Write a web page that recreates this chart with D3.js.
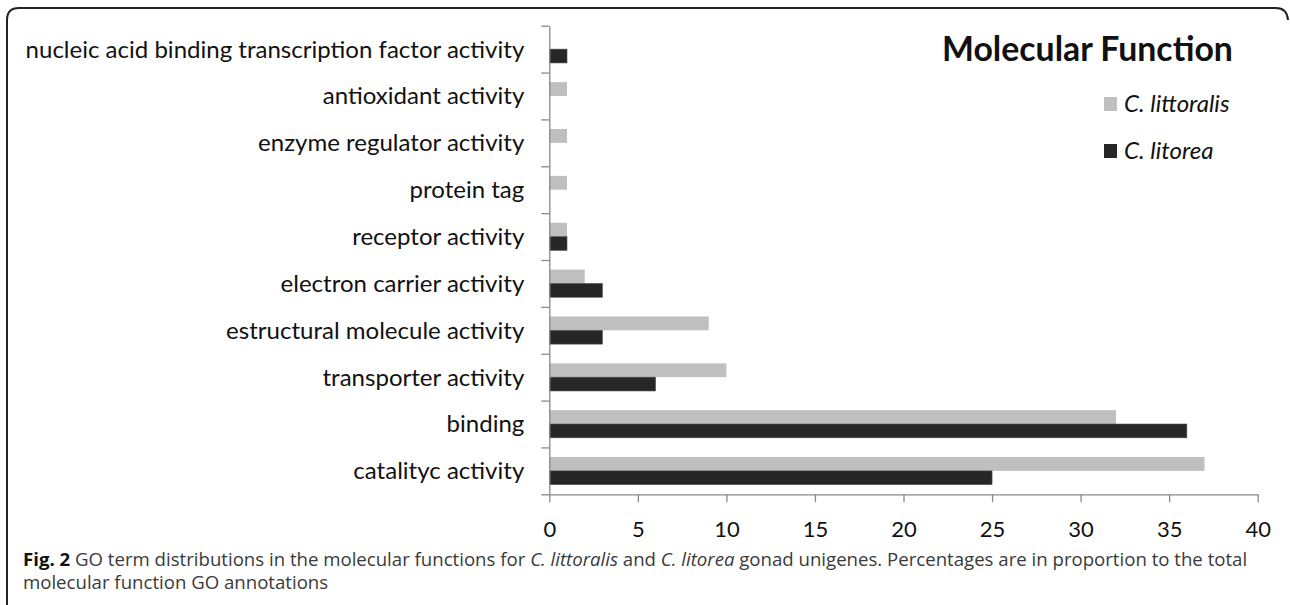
<!DOCTYPE html>
<html>
<head>
<meta charset="utf-8">
<script src="https://cdn.jsdelivr.net/npm/d3@7"></script>
<style>
  body { margin: 0; background: #fff; }
  svg { display: block; }
</style>
</head>
<body>
<div class="chart"></div>
<script>
// data (percent of GO annotations)
var categories = [
  "nucleic acid binding transcription factor activity",
  "antioxidant activity",
  "enzyme regulator activity",
  "protein tag",
  "receptor activity",
  "electron carrier activity",
  "estructural molecule activity",
  "transporter activity",
  "binding",
  "catalityc activity"
];
var littoralis = [0, 1, 1, 1, 1, 2, 9, 10, 32, 37];
var litorea = [1, 0, 0, 0, 1, 3, 3, 6, 36, 25];
var seriesNames = ["C. littoralis", "C. litorea"];
var xTicks = [0, 5, 10, 15, 20, 25, 30, 35, 40];

var svgWidth = 1290;
var svgHeight = 605;

var margin = { top: 25.7, left: 549.3 };
var width = 1257.7 - margin.left;
var height = 494.3 - margin.top;

var colors = ["#bfbfbf", "#262626"];

var svg = d3.select(".chart")
  .append("svg")
  .attr("width", svgWidth)
  .attr("height", svgHeight);

// rounded frame around the chart (open at the bottom, right side cropped)
svg.append("path")
  .attr("d", "M7,612 L7,20 Q7,8 19,8 L1276,8 Q1287,8 1288,20")
  .attr("fill", "none")
  .attr("stroke", "#222")
  .attr("stroke-width", 2);

var chartGroup = svg.append("g")
  .attr("transform", `translate(${margin.left}, ${margin.top})`);

// scales
var xLinearScale = d3.scaleLinear().domain([0, 40]).range([0, width]);

var yBand = d3.scaleBand()
  .domain(categories)
  .range([0, height])
  .paddingInner(0.41)
  .paddingOuter(0.205);

var ySub = d3.scaleBand()
  .domain(seriesNames)
  .range([0, yBand.bandwidth()]);

var yEdge = d3.scaleLinear().domain([0, categories.length]).range([0, height]);

// bars
var rows = categories.map(function(c, i) {
  return { cat: c, vals: [littoralis[i], litorea[i]] };
});

var rowGroups = chartGroup.selectAll(".row")
  .data(rows)
  .enter()
  .append("g")
  .attr("transform", d => `translate(0, ${yBand(d.cat)})`);

rowGroups.selectAll("rect")
  .data(d => d.vals.map((v, j) => ({ name: seriesNames[j], v: v, j: j })))
  .enter()
  .append("rect")
  .filter(d => d.v > 0)
  .attr("x", 0)
  .attr("y", d => ySub(d.name))
  .attr("width", d => xLinearScale(d.v))
  .attr("height", ySub.bandwidth())
  .attr("fill", d => colors[d.j])
  .attr("stroke", d => d.j === 1 ? "#555" : "none")
  .attr("stroke-width", 0.6);

// axes
var bottomAxis = d3.axisBottom(xLinearScale)
  .tickValues(xTicks)
  .tickSize(8)
  .tickSizeOuter(0)
  .tickPadding(19);

var xAxis = chartGroup.append("g")
  .attr("transform", `translate(0, ${height})`)
  .call(bottomAxis);

xAxis.selectAll("text")
  .attr("font-family", "Lato, 'Open Sans', sans-serif")
  .attr("font-size", 22)
  .attr("fill", "#111");

var leftAxis = d3.axisLeft(yEdge)
  .tickValues(d3.range(categories.length + 1))
  .tickFormat("")
  .tickSize(8)
  .tickSizeOuter(0);

var yAxis = chartGroup.append("g").call(leftAxis);

chartGroup.selectAll(".domain, .tick line")
  .attr("stroke", "#8a8a8a")
  .attr("stroke-width", 1.3);

// category labels
var catLabels = chartGroup.selectAll(".cat-label")
  .data(categories)
  .enter()
  .append("text")
  .attr("class", "cat-label")
  .attr("x", -25)
  .attr("y", d => yBand(d) + yBand.bandwidth() / 2)
  .attr("dy", "0.35em")
  .attr("text-anchor", "end")
  .attr("font-family", "Lato, 'Open Sans', sans-serif")
  .attr("font-size", 22)
  .attr("fill", "#111")
  .text(d => d);

// scale the label font so the longest label spans like in the figure
var longest = catLabels.filter((d, i) => i === 0).node().getComputedTextLength();
var labelSize = 22 * 499 / longest;
catLabels.attr("font-size", labelSize);

// title
var title = svg.append("text")
  .attr("x", 942)
  .attr("y", 61)
  .attr("font-family", "Lato, 'Open Sans', sans-serif")
  .attr("font-weight", "bold")
  .attr("font-size", 29)
  .attr("fill", "#111")
  .text("Molecular Function");
var tw = title.node().getComputedTextLength();
title.attr("font-size", 29 * 291 / tw);

// legend
var legend = svg.selectAll(".legend")
  .data(seriesNames)
  .enter()
  .append("g")
  .attr("transform", (d, i) => `translate(1104, ${97 + i * 47})`);

legend.append("rect")
  .attr("width", 13)
  .attr("height", 14)
  .attr("fill", (d, i) => colors[i]);

legend.append("text")
  .attr("x", 20)
  .attr("y", 7)
  .attr("dy", "0.35em")
  .attr("font-family", "Lato, 'Open Sans', sans-serif")
  .attr("font-style", "italic")
  .attr("font-size", labelSize)
  .attr("fill", "#111")
  .text(d => d);

// caption
var caption = svg.append("g")
  .attr("font-family", "'Open Sans', sans-serif")
  .attr("font-size", 16)
  .attr("fill", "#3a3a3a");

var line1 = caption.append("text").attr("x", 23).attr("y", 566);
line1.append("tspan").attr("font-weight", "bold").attr("fill", "#111").text("Fig. 2");
line1.append("tspan").text(" GO term distributions in the molecular functions for ");
line1.append("tspan").attr("font-style", "italic").text("C. littoralis");
line1.append("tspan").text(" and ");
line1.append("tspan").attr("font-style", "italic").text("C. litorea");
line1.append("tspan").text(" gonad unigenes. Percentages are in proportion to the total");

var line2 = caption.append("text").attr("x", 23).attr("y", 589)
  .text("molecular function GO annotations");

var cw = line1.node().getComputedTextLength();
caption.attr("font-size", 16 * 1225 / cw);
</script>
</body>
</html>
